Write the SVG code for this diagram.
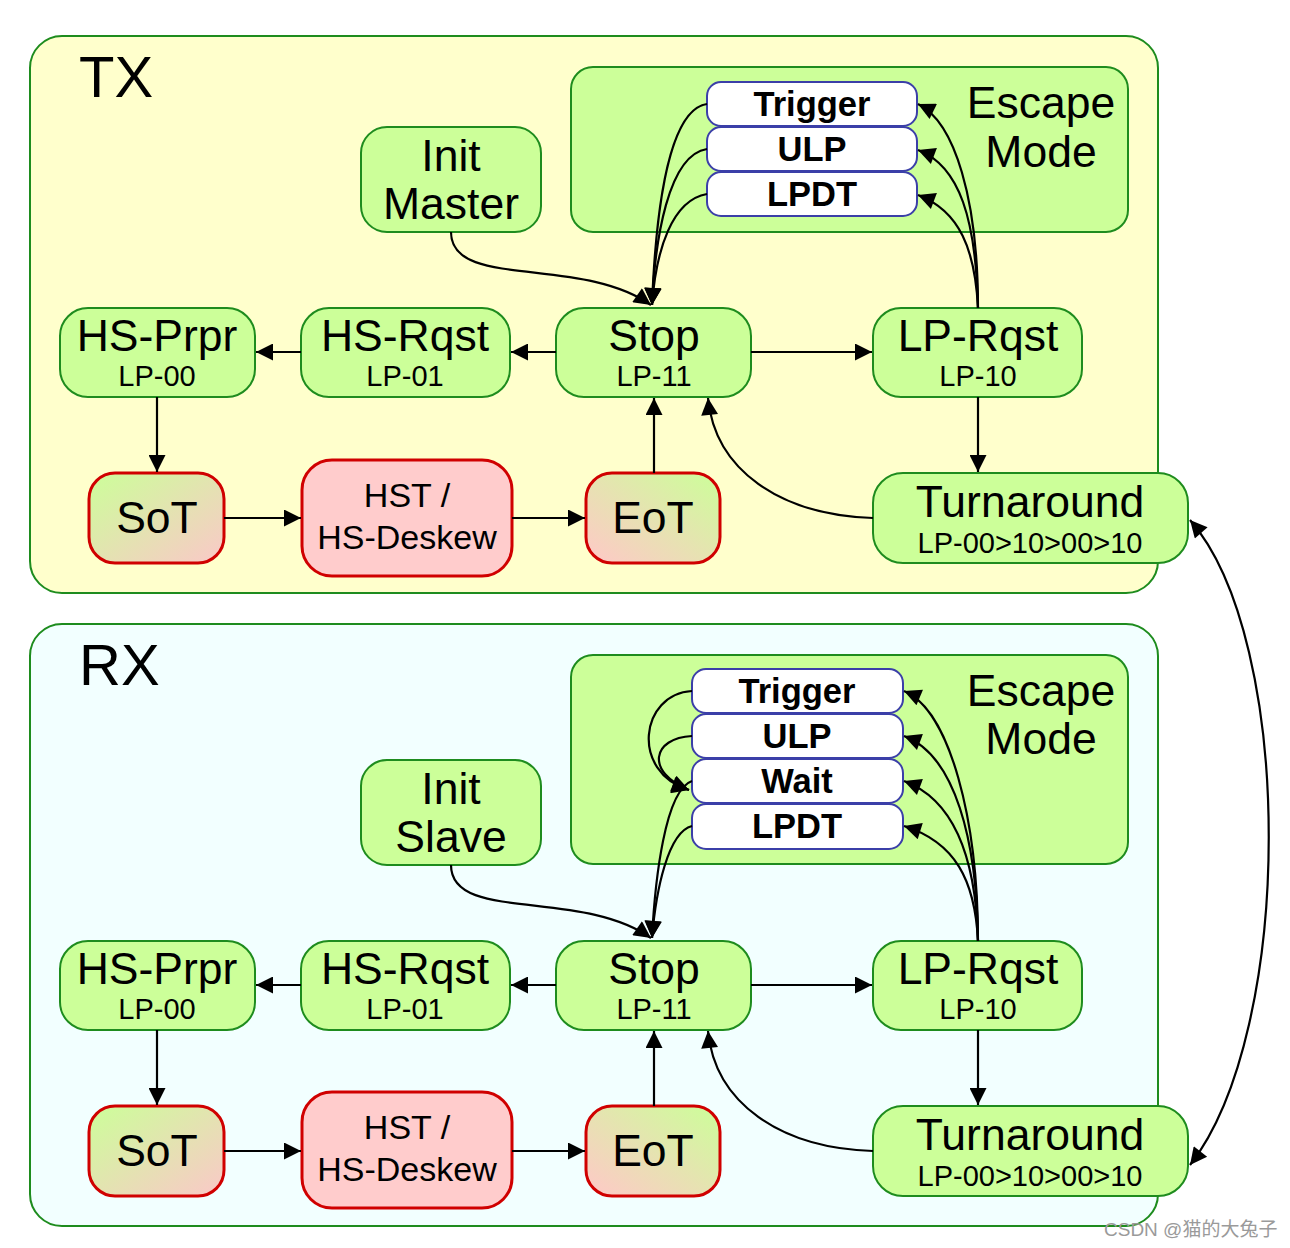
<svg xmlns="http://www.w3.org/2000/svg" width="1290" height="1248" viewBox="0 0 1290 1248">
<style>
.bg{fill:#fff}
.cont{stroke:#1e8c1e;stroke-width:2}
.tx{fill:#FFFFCC}
.rx{fill:#F2FFFF}
.esc{fill:#CCFF99;stroke:#1e8c1e;stroke-width:2}
.gn{fill:#CCFF99;stroke:#1e8c1e;stroke-width:2}
.rd{stroke:#D00000;stroke-width:3}
.sub{fill:#fff;stroke:#3b3fa8;stroke-width:2}
text{font-family:"Liberation Sans",Arial,sans-serif;fill:#000;text-anchor:middle}
.big{font-size:44.5px}
.sm{font-size:29px}
.hs{font-size:34px}
.b{font-size:34.5px;font-weight:bold}
.title{font-size:58px;text-anchor:start}
.wm{font-family:"Liberation Sans","Noto Sans CJK SC",sans-serif;font-size:19px;fill:#9a9a9a;text-anchor:start}
.c{fill:none;stroke:#000;stroke-width:2.2;marker-end:url(#ah)}
.c2{fill:none;stroke:#000;stroke-width:2.2;marker-start:url(#ah);marker-end:url(#ah)}
</style>
<defs>
<marker id="ah" viewBox="0 0 10 10" refX="10" refY="5" markerWidth="21" markerHeight="17" markerUnits="userSpaceOnUse" orient="auto-start-reverse">
<path d="M0,0 L10,5 L0,10 z" fill="#000"/>
</marker>
<linearGradient id="gSoT" x1="0" y1="0" x2="1" y2="1">
<stop offset="0" stop-color="#CCFF99"/>
<stop offset="1" stop-color="#FAC8C8"/>
</linearGradient>
<linearGradient id="gEoT" x1="0" y1="1" x2="1" y2="0">
<stop offset="0" stop-color="#FFC8C8"/>
<stop offset="1" stop-color="#CCFF99"/>
</linearGradient>
</defs>
<rect class="bg" x="0" y="0" width="1290" height="1248"/>

<!-- TX section -->
<g id="tx-container">
<rect class="cont tx" x="30" y="36" width="1128" height="557" rx="32"/>
<text class="title" x="79" y="97">TX</text>
</g>
<g id="tx-escape">
<rect class="esc" x="571" y="67" width="557" height="165" rx="22"/>
<text class="big" x="1041" y="118">Escape</text>
<text class="big" x="1041" y="167">Mode</text>
</g>
<g id="tx-trigger"><rect class="sub" x="707" y="82" width="210" height="44" rx="14"/><text class="b" x="812" y="116">Trigger</text></g>
<g id="tx-ulp"><rect class="sub" x="707" y="127" width="210" height="44" rx="14"/><text class="b" x="812" y="161">ULP</text></g>
<g id="tx-lpdt"><rect class="sub" x="707" y="172" width="210" height="44" rx="14"/><text class="b" x="812" y="206">LPDT</text></g>
<g id="tx-init"><rect class="gn" x="361" y="127" width="180" height="105" rx="26"/><text class="big" x="451" y="171">Init</text><text class="big" x="451" y="219">Master</text></g>
<g id="tx-hsprpr"><rect class="gn" x="60" y="308" width="195" height="89" rx="28"/><text class="big" x="157" y="351">HS-Prpr</text><text class="sm" x="157" y="386">LP-00</text></g>
<g id="tx-hsrqst"><rect class="gn" x="301" y="308" width="209" height="89" rx="28"/><text class="big" x="405" y="351">HS-Rqst</text><text class="sm" x="405" y="386">LP-01</text></g>
<g id="tx-stop"><rect class="gn" x="556" y="308" width="195" height="89" rx="28"/><text class="big" x="654" y="351">Stop</text><text class="sm" x="654" y="386">LP-11</text></g>
<g id="tx-lprqst"><rect class="gn" x="873" y="308" width="209" height="89" rx="28"/><text class="big" x="978" y="351">LP-Rqst</text><text class="sm" x="978" y="386">LP-10</text></g>
<g id="tx-sot"><rect class="rd" fill="url(#gSoT)" x="89" y="473" width="135" height="90" rx="26"/><text class="big" x="157" y="533">SoT</text></g>
<g id="tx-hst"><rect class="rd" fill="#FFCCCC" x="302" y="460" width="210" height="116" rx="30"/><text class="hs" x="407" y="507">HST /</text><text class="hs" x="407" y="549">HS-Deskew</text></g>
<g id="tx-eot"><rect class="rd" fill="url(#gEoT)" x="586" y="473" width="134" height="90" rx="26"/><text class="big" x="653" y="533">EoT</text></g>
<g id="tx-turn"><rect class="gn" x="873" y="473" width="315" height="90" rx="30"/><text class="big" x="1030" y="517">Turnaround</text><text class="sm" x="1030" y="553">LP-00&gt;10&gt;00&gt;10</text></g>

<!-- RX section -->
<g id="rx-container">
<rect class="cont rx" x="30" y="624" width="1128" height="602" rx="32"/>
<text class="title" x="79" y="685">RX</text>
</g>
<g id="rx-escape">
<rect class="esc" x="571" y="655" width="557" height="209" rx="22"/>
<text class="big" x="1041" y="706">Escape</text>
<text class="big" x="1041" y="754">Mode</text>
</g>
<g id="rx-trigger"><rect class="sub" x="692" y="669" width="211" height="44" rx="14"/><text class="b" x="797" y="703">Trigger</text></g>
<g id="rx-ulp"><rect class="sub" x="692" y="714" width="211" height="44" rx="14"/><text class="b" x="797" y="748">ULP</text></g>
<g id="rx-wait"><rect class="sub" x="692" y="759" width="211" height="44" rx="14"/><text class="b" x="797" y="793">Wait</text></g>
<g id="rx-lpdt"><rect class="sub" x="692" y="804" width="211" height="45" rx="14"/><text class="b" x="797" y="838">LPDT</text></g>
<g id="rx-init"><rect class="gn" x="361" y="760" width="180" height="105" rx="26"/><text class="big" x="451" y="804">Init</text><text class="big" x="451" y="852">Slave</text></g>
<g id="rx-hsprpr"><rect class="gn" x="60" y="941" width="195" height="89" rx="28"/><text class="big" x="157" y="984">HS-Prpr</text><text class="sm" x="157" y="1019">LP-00</text></g>
<g id="rx-hsrqst"><rect class="gn" x="301" y="941" width="209" height="89" rx="28"/><text class="big" x="405" y="984">HS-Rqst</text><text class="sm" x="405" y="1019">LP-01</text></g>
<g id="rx-stop"><rect class="gn" x="556" y="941" width="195" height="89" rx="28"/><text class="big" x="654" y="984">Stop</text><text class="sm" x="654" y="1019">LP-11</text></g>
<g id="rx-lprqst"><rect class="gn" x="873" y="941" width="209" height="89" rx="28"/><text class="big" x="978" y="984">LP-Rqst</text><text class="sm" x="978" y="1019">LP-10</text></g>
<g id="rx-sot"><rect class="rd" fill="url(#gSoT)" x="89" y="1106" width="135" height="90" rx="26"/><text class="big" x="157" y="1166">SoT</text></g>
<g id="rx-hst"><rect class="rd" fill="#FFCCCC" x="302" y="1092" width="210" height="116" rx="30"/><text class="hs" x="407" y="1139">HST /</text><text class="hs" x="407" y="1181">HS-Deskew</text></g>
<g id="rx-eot"><rect class="rd" fill="url(#gEoT)" x="586" y="1106" width="134" height="90" rx="26"/><text class="big" x="653" y="1166">EoT</text></g>
<g id="rx-turn"><rect class="gn" x="873" y="1106" width="315" height="90" rx="30"/><text class="big" x="1030" y="1150">Turnaround</text><text class="sm" x="1030" y="1186">LP-00&gt;10&gt;00&gt;10</text></g>

<g id="connectors">
<!-- TX -->
<path class="c" d="M451,232 C451,290 580,255 651,305"/>
<path class="c" d="M707,104 C665,110 655,230 652,305"/>
<path class="c" d="M707,149 C668,155 655,240 652,305"/>
<path class="c" d="M707,194 C672,200 656,250 652,305"/>
<path class="c" d="M978,308 C978,200 955,122 918,104"/>
<path class="c" d="M978,308 C976,220 960,166 918,150"/>
<path class="c" d="M978,308 C975,250 960,211 918,195"/>
<path class="c" d="M556,352 L511,352"/>
<path class="c" d="M301,352 L256,352"/>
<path class="c" d="M751,352 L872,352"/>
<path class="c" d="M157,397 L157,472"/>
<path class="c" d="M978,397 L978,472"/>
<path class="c" d="M224,518 L301,518"/>
<path class="c" d="M512,518 L585,518"/>
<path class="c" d="M654,473 L654,398"/>
<path class="c" d="M873,518 C780,515 715,470 708,398"/>
<!-- TX <-> RX -->
<path class="c2" d="M1190,520 C1295,640 1295,1030 1190,1165"/>
<!-- RX -->
<path class="c" d="M451,865 C451,923 580,888 651,938"/>
<path class="c" d="M692,691 C640,694 630,772 689,790"/>
<path class="c" d="M692,736 C652,738 645,772 689,790"/>
<path class="c" d="M692,781 C665,790 655,880 652,938"/>
<path class="c" d="M692,826 C668,832 656,890 652,938"/>
<path class="c" d="M978,941 C978,820 950,710 904,691"/>
<path class="c" d="M978,941 C977,840 955,755 904,736"/>
<path class="c" d="M978,941 C976,860 955,800 904,781"/>
<path class="c" d="M978,941 C975,880 955,842 904,826"/>
<path class="c" d="M556,985 L511,985"/>
<path class="c" d="M301,985 L256,985"/>
<path class="c" d="M751,985 L872,985"/>
<path class="c" d="M157,1030 L157,1105"/>
<path class="c" d="M978,1030 L978,1105"/>
<path class="c" d="M224,1151 L301,1151"/>
<path class="c" d="M512,1151 L585,1151"/>
<path class="c" d="M654,1106 L654,1031"/>
<path class="c" d="M873,1151 C780,1148 715,1103 708,1031"/>
</g>

<text class="wm" x="1104" y="1236">CSDN @猫的大兔子</text>
</svg>
